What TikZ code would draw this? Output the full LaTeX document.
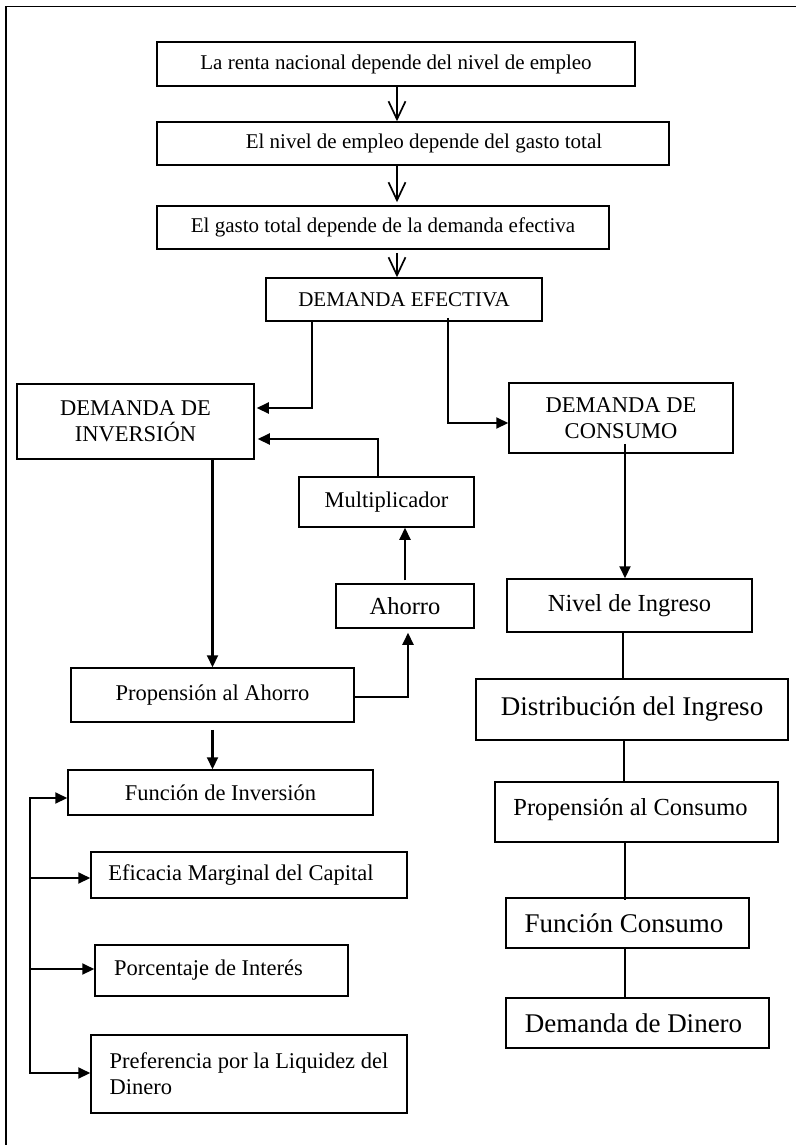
\documentclass[tikz,border=0pt]{standalone}
\usepackage{fontspec}
\setmainfont{Liberation Serif}
\usetikzlibrary{arrows.meta}
\newcommand\szTop{\fontsize{21}{25}\selectfont}
\newcommand\szMid{\fontsize{22.5}{26}\selectfont}
\newcommand\szBig{\fontsize{24.5}{28}\selectfont}
\newcommand\szHuge{\fontsize{27}{31}\selectfont}
\begin{document}
\begin{tikzpicture}[x=1pt,y=-1pt,
  box/.style={draw, line width=1.5pt, inner sep=0pt, align=center},
  fa/.style={line width=2.1pt, -{Triangle[length=12pt,width=11pt]}},
  oa/.style={line width=1.7pt, -{Straight Barb[length=18pt,width=17pt]}},
  ln/.style={line width=1.5pt},
  frame/.style={line width=1.8pt}]
\useasboundingbox (0,0) rectangle (796,1145);

% outer frame (top and left edges)
\draw[frame] (6,1145) -- (6,6.5) -- (796,6.5);

% main chain
\node[box, minimum width=478, minimum height=44, font=\szTop] (b1) at (396,64)
  {La renta nacional depende del nivel de empleo};
\node[box, minimum width=512, minimum height=43, font=\szTop] (b2) at (413,143.5)
  {\hspace*{22pt}El nivel de empleo depende del gasto total};
\node[box, minimum width=452, minimum height=43, font=\szTop] (b3) at (383,227.5)
  {El gasto total depende de la demanda efectiva};
\node[box, minimum width=276, minimum height=43, font=\szTop] (de) at (404,299.5)
  {DEMANDA EFECTIVA};

% investment branch
\node[box, minimum width=237, minimum height=75, font=\szMid] (inv) at (135.5,421.5)
  {DEMANDA DE\\INVERSIÓN};
\node[box, minimum width=175, minimum height=50, font=\szMid] (mult) at (386.5,502)
  {Multiplicador};
\node[box, minimum width=138, minimum height=44, font=\szBig] (aho) at (405,606)
  {Ahorro};
\node[box, minimum width=283, minimum height=54, font=\szMid] (pa) at (212.5,695)
  {Propensión al Ahorro};
\node[box, minimum width=305, minimum height=45, font=\szMid] (fi) at (220.5,792.5)
  {Función de Inversión};
\node[box, minimum width=316, minimum height=46, font=\szMid] (ef) at (249,875)
  {Eficacia Marginal del Capital\hspace*{16pt}};
\node[box, minimum width=253, minimum height=51, font=\szMid] (po) at (221.5,970.5)
  {Porcentaje de Interés\hspace*{26pt}};
\node[box, minimum width=316, minimum height=78, font=\szMid, align=left] (pr) at (249,1074)
  {Preferencia por la Liquidez del\\Dinero};

% consumption branch
\node[box, minimum width=224, minimum height=70, font=\szMid] (con) at (621,418)
  {DEMANDA DE\\CONSUMO};
\node[box, minimum width=245, minimum height=53, font=\szBig] (ni) at (629.5,605.5)
  {Nivel de Ingreso};
\node[box, minimum width=312, minimum height=61, font=\szHuge] (di) at (632,709.5)
  {Distribución del Ingreso};
\node[box, minimum width=283, minimum height=60, font=\szBig, text depth=11pt] (pc) at (636.5,812)
  {Propensión al Consumo\hspace*{12pt}};
\node[box, minimum width=243, minimum height=50, font=\szHuge] (fc) at (627.5,923)
  {Función Consumo\hspace*{7pt}};
\node[box, minimum width=263, minimum height=50, font=\szHuge] (dd) at (637.5,1023)
  {Demanda de Dinero\hspace*{8pt}};

% top chain arrows
\coordinate (tc) at (397,0);
\draw[oa] (b1.south -| tc) -- (b2.north -| tc);
\draw[oa] (b2.south -| tc) -- ([yshift=3pt]b3.north -| tc);
\draw[oa] ([yshift=-3pt]b3.south -| tc) -- (de.north -| tc);

% demanda efectiva splits
\coordinate (dl) at (312,408);
\coordinate (dr) at (448,423);
\draw[fa, shorten >=2pt] (de.south -| dl) -- (dl) -- (inv.east |- dl);
\draw[fa] ([yshift=4pt]de.south -| dr) -- (dr) -- (con.west |- dr);

% savings loop
\coordinate (ml) at (378,439);
\draw[fa, shorten >=3pt] (mult.north -| ml) -- (ml) -- (inv.east |- ml);
\draw[fa] ([yshift=3pt]aho.north) -- (aho.north |- mult.south);
\coordinate (pr1) at (408,697);
\draw[fa, shorten >=4pt] ([xshift=-2pt]pa.east |- pr1) -- (pr1) -- (aho.south -| pr1);

% investment chain
\draw[fa] (pa.north |- inv.south) -- (pa.north);
\draw[fa] ([yshift=-7pt]pa.south) -- (pa.south |- fi.north);

% determinants bus
\coordinate (bt) at (30,798);
\coordinate (bb) at (30,1073);
\draw[fa, line cap=rect] (bb) -- (bt) -- (fi.west |- bt);
\draw[fa] (bt |- 0,878) -- (ef.west |- 0,878);
\draw[fa] (bt |- 0,969) -- (po.west |- 0,969);
\draw[fa] (bb) -- (pr.west |- bb);

% consumption chain
\coordinate (rc) at (625,0);
\draw[fa] ([yshift=10pt]con.south -| rc) -- (ni.north -| rc);
\draw[ln] (ni.south -| 623,0) -- (di.north -| 623,0);
\draw[ln] (di.south -| 624,0) -- (pc.north -| 624,0);
\draw[ln] (pc.south -| rc) -- ([yshift=-3pt]fc.north -| rc);
\draw[ln] (fc.south -| rc) -- (dd.north -| rc);
\end{tikzpicture}
\end{document}
